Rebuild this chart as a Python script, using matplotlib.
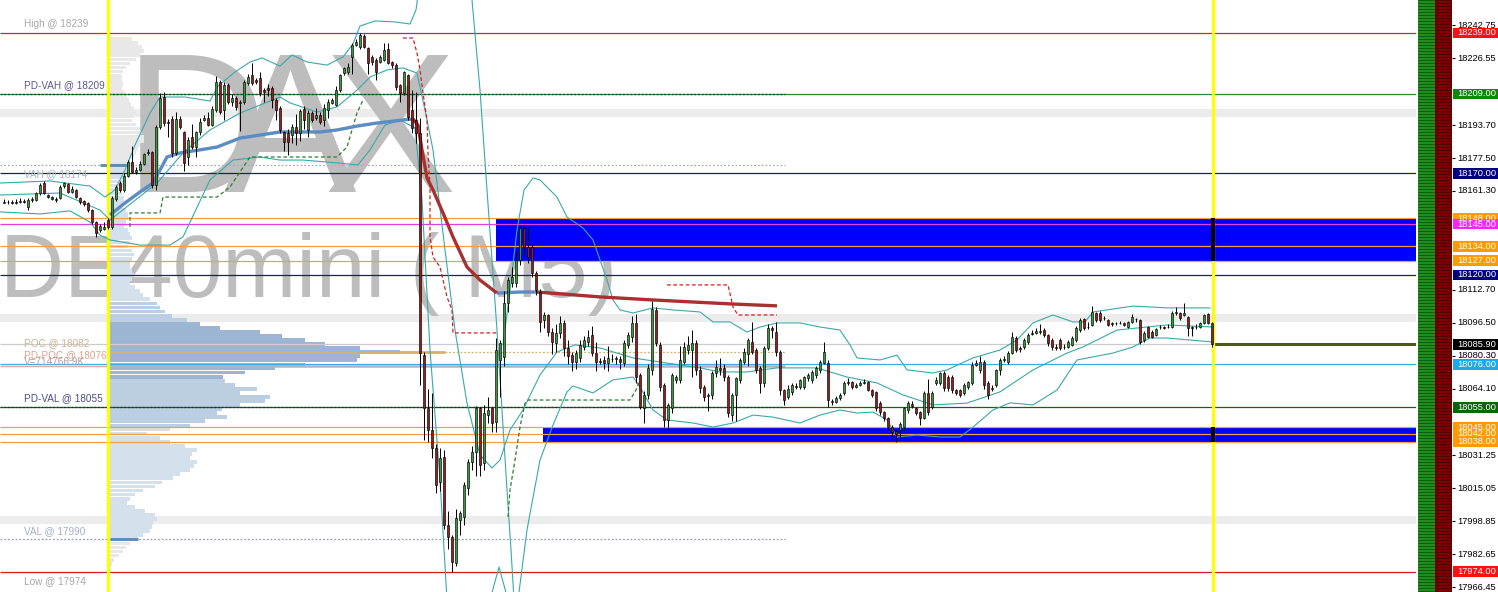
import numpy as np
import matplotlib
matplotlib.use('Agg')
import matplotlib.pyplot as plt
from matplotlib.patches import Rectangle

plt.rcParams['font.family'] = ['Liberation Sans', 'DejaVu Sans']

# ---- DE40mini M5 candles ----
opens = [18155.5, 18156, 18156, 18155.5, 18156, 18156.5, 18153.5, 18157, 18157, 18160.3,
         18165, 18159.5, 18158.5, 18157.5, 18158, 18163.5, 18164.5, 18161, 18162, 18158,
         18156.5, 18155.5, 18152, 18146, 18142, 18142.5, 18147, 18143.6, 18157.5, 18165.2,
         18162, 18168.7, 18175.6, 18170.6, 18171.6, 18174.6, 18180, 18180.5, 18164.2, 18192.8,
         18207.5, 18195, 18196.7, 18180, 18196.7, 18190.3, 18178, 18187.8, 18182.9, 18190.3,
         18196, 18197.2, 18193.7, 18201.1, 18214.9, 18201.1, 18213.4, 18205, 18207, 18204.5,
         18205, 18214.4, 18218.3, 18215.9, 18216.8, 18210.9, 18211.9, 18211.9, 18206, 18202,
         18190.3, 18189.8, 18188.8, 18192.8, 18189.8, 18201.6, 18191.3, 18199.6, 18197, 18198.6,
         18196.2, 18201.1, 18204.5, 18203.6, 18210.9, 18219.3, 18219.8, 18227.2, 18233, 18232.1,
         18237.5, 18231.6, 18227.2, 18225.7, 18224.7, 18225.7, 18231.1, 18224.7, 18223.2, 18213.4,
         18209.5, 18218.3, 18201.1, 18196.2, 18190, 18080.6, 18054.5, 18043.8, 18034.9, 18018.2,
         18030.5, 17997, 17991.1, 17978.4, 17999.5, 18001, 18015.3, 18028, 18033, 18054.6,
         18027.6, 18051.1, 18054.6, 18047.7, 18078.2, 18079.6, 18106.2, 18116, 18116, 18127.4,
         18143.1, 18133.8, 18133.8, 18121, 18111.6, 18097.8, 18100.3, 18092, 18086.5, 18091.5,
         18096.4, 18084.1, 18080.5, 18077.2, 18079.2, 18084.6, 18087, 18090.5, 18081.6, 18077.2,
         18078, 18076.7, 18078.7, 18078.7, 18078.7, 18076.7, 18085.6, 18089.5, 18096.4, 18070.8,
         18054.6, 18061, 18073.3, 18102.8, 18085.6, 18065.9, 18048.7, 18054.6, 18068.4, 18068.4,
         18077.2, 18083, 18083, 18086.5, 18073.3, 18064.9, 18060.5, 18060.9, 18071.8, 18074.3,
         18074.3, 18069.8, 18051.1, 18061, 18068.4, 18077.2, 18081, 18087, 18083.1, 18074.3,
         18066.9, 18084.1, 18093.9, 18092, 18082.1, 18063.4, 18060, 18062.5, 18065.5, 18064.9,
         18064.9, 18069.3, 18068.4, 18070.8, 18073.3, 18076.7, 18076.7, 18057.5, 18057.5, 18059.4,
         18062, 18066.9, 18067.2, 18065, 18066, 18066.9, 18067.3, 18063.4, 18062.5, 18057,
         18052.6, 18049.6, 18045.3, 18043.3, 18043.8, 18045.3, 18053.6, 18056.5, 18054.6, 18052.6,
         18049.6, 18061.9, 18055, 18067, 18066.9, 18071.8, 18069.8, 18069.8, 18063.4, 18063.4,
         18061.9, 18064.9, 18066.9, 18075.7, 18073.3, 18077.2, 18066.9, 18063.9, 18065.9, 18073.3,
         18078, 18077.2, 18081.6, 18089, 18084.1, 18084.6, 18087, 18091, 18091.5, 18092,
         18093, 18090.5, 18088, 18084.8, 18088, 18084.4, 18084.6, 18085.6, 18088, 18092.9,
         18098.3, 18094.4, 18095.4, 18101.3, 18101.3, 18098.6, 18097.8, 18096.4, 18096.2, 18096.4,
         18096.6, 18094.4, 18096.9, 18098.3, 18097.8, 18088, 18094.4, 18092, 18090.5, 18094.2,
         18094.4, 18094.3, 18094.4, 18101.3, 18101.3, 18100.3, 18099.3, 18094.4, 18094.2, 18094.4,
         18096.4, 18100.8, 18096.4]
highs = [18157.5, 18157, 18157, 18157.5, 18158, 18157.5, 18158, 18158.5, 18161, 18165,
         18166, 18160, 18159, 18158.5, 18164, 18165.5, 18165, 18163.5, 18162.5, 18158.5,
         18157, 18156, 18152.5, 18146.5, 18145, 18146, 18148, 18159, 18164, 18166,
         18170, 18176.5, 18183.5, 18173, 18176, 18180, 18182, 18181, 18193.5, 18209.5,
         18210, 18196.5, 18198, 18200, 18198, 18191, 18188, 18194, 18191, 18197,
         18198.5, 18200, 18203, 18218, 18216, 18215, 18214.5, 18209, 18208, 18206,
         18216, 18219, 18224, 18217, 18220, 18212, 18214, 18213, 18207, 18203,
         18191, 18192, 18194, 18199, 18201.5, 18203, 18201, 18200.5, 18202, 18200,
         18204, 18206.5, 18207, 18213, 18219, 18222.5, 18224, 18234, 18236, 18239,
         18238.5, 18232, 18228, 18226.5, 18228, 18234, 18234, 18225, 18224, 18214,
         18220.5, 18219, 18211, 18210, 18197, 18082, 18064, 18062, 18037, 18035,
         18034, 18004, 17992, 18005, 18004, 18018, 18029.5, 18036, 18055.5, 18055,
         18056, 18060, 18055, 18089, 18088, 18112, 18119, 18124, 18132, 18144,
         18144, 18144, 18135, 18122, 18113, 18102, 18101, 18094, 18096, 18100,
         18098, 18088, 18082, 18083, 18088, 18090, 18093, 18095, 18087, 18079,
         18080, 18085, 18081, 18080, 18080, 18088, 18092, 18100, 18101, 18072,
         18063, 18076, 18107, 18104, 18087, 18067, 18057, 18072, 18071, 18085,
         18087, 18090, 18093, 18088, 18075, 18066, 18062, 18073, 18078, 18079,
         18076, 18071, 18062, 18070, 18079, 18084, 18089, 18097, 18084, 18075,
         18085, 18096, 18095, 18097, 18083, 18064, 18066, 18067, 18067, 18069,
         18070.5, 18072, 18073.5, 18075, 18078, 18087, 18078, 18059, 18060.5, 18062,
         18068, 18069.5, 18068, 18067, 18068, 18069, 18068, 18064, 18063, 18058,
         18053, 18050, 18046, 18044, 18047.5, 18055, 18058, 18058, 18055, 18053,
         18063, 18069, 18063, 18070, 18072.5, 18073, 18071, 18071, 18064, 18064,
         18067, 18068, 18077, 18078, 18080, 18078, 18068, 18066, 18074, 18079,
         18080, 18082.5, 18092, 18090, 18085, 18089, 18091.5, 18093, 18094, 18096,
         18094, 18091, 18089, 18086, 18089, 18086, 18088, 18090, 18095, 18099,
         18099, 18097, 18104.5, 18102, 18102.5, 18100, 18098.5, 18097, 18097, 18097.5,
         18097, 18097.5, 18101, 18099, 18098.5, 18092.5, 18095, 18093, 18094, 18095.5,
         18095, 18096, 18102.5, 18104, 18102, 18106, 18100, 18095, 18096, 18097,
         18101, 18101.5, 18097]
lows = [18155.5, 18155, 18155, 18155, 18155.5, 18155.5, 18152, 18156, 18156.5, 18159.5,
        18160, 18158, 18157, 18156, 18157.5, 18163, 18160.5, 18160.5, 18158, 18155,
        18154, 18151, 18145, 18138.7, 18141, 18142, 18142.5, 18142.5, 18156.5, 18161,
        18161, 18168, 18170, 18169.5, 18171, 18174, 18179, 18163, 18162, 18192,
        18193, 18188, 18178, 18179, 18192, 18171, 18174, 18182, 18178, 18189,
        18195.5, 18193, 18193, 18200, 18199, 18196, 18204, 18203, 18201, 18191,
        18204, 18213.5, 18213.5, 18214, 18208, 18205, 18208, 18202, 18196, 18190,
        18181, 18179, 18185, 18184, 18186, 18192, 18188, 18195, 18196, 18194,
        18193, 18197, 18204, 18203, 18210, 18218.5, 18219, 18219, 18232.5, 18231,
        18231.5, 18219, 18223, 18216, 18224, 18225, 18223.5, 18222, 18211, 18205,
        18208.5, 18196, 18190, 18185, 18066, 18039, 18038, 18030, 18013, 18014,
        17995, 17985, 17974, 17977, 17992, 17997, 18012, 18024, 18021, 18021,
        18024, 18047, 18043, 18043, 18060, 18075, 18102, 18114, 18114, 18125,
        18130, 18126, 18119, 18110, 18092, 18094, 18090, 18081, 18082, 18089,
        18080, 18076, 18073, 18074, 18077, 18083, 18085, 18080, 18073, 18076,
        18074, 18073, 18077, 18076, 18074, 18075, 18084, 18087, 18067, 18054,
        18047, 18059, 18071, 18085, 18063, 18045, 18044, 18052, 18067, 18067,
        18076, 18081, 18070, 18071, 18062, 18058, 18053, 18059, 18070, 18071,
        18068, 18050, 18048, 18048, 18067, 18076, 18075, 18081, 18072, 18062,
        18065, 18083, 18089, 18080, 18061, 18056, 18059, 18061, 18064, 18064,
        18064, 18068, 18067, 18069.5, 18072, 18076, 18055, 18056, 18057, 18058.5,
        18061, 18066, 18064, 18064.5, 18065.5, 18066.5, 18063, 18060, 18053, 18051,
        18048, 18044, 18039, 18038, 18040, 18044, 18052, 18054.5, 18051, 18046,
        18049, 18051, 18054, 18066, 18066, 18063, 18063, 18062, 18061, 18060,
        18061, 18064, 18066, 18075, 18072, 18064, 18059, 18063, 18065, 18071,
        18077, 18076, 18081, 18082, 18082, 18083.5, 18086, 18090.5, 18091, 18091,
        18089.5, 18085, 18083, 18083, 18083, 18083.5, 18084, 18085, 18087, 18092,
        18093, 18093.5, 18095, 18097, 18097, 18098, 18095, 18095, 18095.5, 18096,
        18095, 18094, 18096.5, 18097, 18086, 18087, 18089, 18089, 18090, 18093.5,
        18093.5, 18093.8, 18094, 18100.5, 18098, 18100, 18090, 18090, 18093.5, 18094,
        18096, 18096, 18084.5]
closes = [18156, 18156, 18155.5, 18156, 18156.5, 18156, 18157, 18157.4, 18160.3, 18164.2,
          18160.3, 18158.5, 18157.5, 18157, 18163.3, 18165, 18161, 18162.5, 18158.5, 18156,
          18155, 18152, 18146, 18140.6, 18144, 18143.8, 18143.6, 18158, 18163.3, 18161.8,
          18168.7, 18175.6, 18170.6, 18171.6, 18174.6, 18179.5, 18180.5, 18164.2, 18192.8, 18207,
          18194.7, 18194.5, 18180, 18196.7, 18192.8, 18175, 18186.4, 18182.9, 18190.3, 18195.2,
          18197, 18193.7, 18201.6, 18214.9, 18200.1, 18213.4, 18205, 18207, 18202.6, 18205,
          18214.9, 18217.4, 18214.4, 18214.9, 18209.5, 18210, 18210.9, 18206, 18201.1, 18191.3,
          18185.4, 18185.4, 18192.8, 18189.8, 18200.6, 18196.2, 18199.6, 18196.2, 18198.5, 18195.2,
          18202.1, 18205, 18206, 18210.9, 18218.3, 18221.8, 18222.3, 18233, 18234.5, 18238,
          18232.1, 18224.2, 18224.7, 18219.8, 18227.2, 18230.6, 18224.2, 18223.2, 18212.4, 18209.5,
          18219.8, 18197.7, 18192.3, 18189.8, 18081.6, 18054.5, 18043.8, 18034.9, 18016.7, 18030,
          17997, 17991.1, 17978.9, 18000.5, 18003, 18016.7, 18028, 18033, 18054.6, 18026.6,
          18052.1, 18053.6, 18047.2, 18083.1, 18086.5, 18106.2, 18117.5, 18119, 18127.4, 18143.1,
          18133.8, 18128.8, 18121, 18112.6, 18096.9, 18100.3, 18092, 18087, 18091.5, 18096.4,
          18084.1, 18080, 18077.2, 18081.6, 18085.6, 18088, 18089.5, 18081.6, 18077.2, 18077.7,
          18076.7, 18079.2, 18078.7, 18079.2, 18077.2, 18086.5, 18090.5, 18096.4, 18069.8, 18055,
          18061, 18074.3, 18103.3, 18086.5, 18064.9, 18048.7, 18056, 18070.8, 18069.8, 18078.2,
          18084.6, 18085.5, 18086.5, 18073.3, 18064.4, 18060, 18060.9, 18071.8, 18074.8, 18073.3,
          18069.8, 18052.1, 18061, 18069.3, 18078.2, 18082, 18088, 18082.1, 18073.3, 18066.9,
          18084.1, 18093.9, 18093, 18082.1, 18063.4, 18058.5, 18063.9, 18065.9, 18065, 18068.4,
          18069.8, 18070.8, 18072.3, 18074.3, 18077.2, 18082.1, 18058.5, 18058, 18059.4, 18061,
          18066.9, 18067.2, 18064.9, 18065.9, 18066.8, 18067.3, 18063.4, 18061, 18054.6, 18052.6,
          18049.6, 18045.3, 18042.8, 18042, 18046.7, 18054.6, 18057, 18055.5, 18052.1, 18049.6,
          18061.9, 18052.6, 18061.9, 18068.4, 18071.8, 18064.4, 18064.4, 18063.4, 18061.9, 18061,
          18065.9, 18067.3, 18075.7, 18076.7, 18077.2, 18065.9, 18061, 18064.4, 18073.3, 18078.2,
          18078.6, 18081.6, 18089.5, 18083.1, 18083.6, 18088, 18090.5, 18091.6, 18092.2, 18092.5,
          18090.5, 18086.5, 18084.6, 18084.3, 18084.1, 18084.8, 18087, 18089, 18093.9, 18097.8,
          18094, 18094.6, 18101.8, 18097.8, 18097.8, 18098.9, 18095.4, 18095.9, 18096.5, 18096.6,
          18095.6, 18096.9, 18099.4, 18098.1, 18087, 18091.5, 18089.5, 18089.5, 18093.4, 18094.5,
          18094, 18094.6, 18101.3, 18101.6, 18098.8, 18101.5, 18093.9, 18093.9, 18094.4, 18096.4,
          18100.3, 18096.4, 18085.9]

# ---- Bollinger bands (candle index, price) ----
bb_up1_i = [-1, 11.5, 21.5, 25.25, 27.75, 30.25, 32.75, 36.5, 39, 45.25, 51.5, 53.5, 57.75, 61.5,
            64.5, 69, 72, 75.75, 80.75, 84.75, 87.25, 89, 92.75, 97.75, 101.5, 103, 104]
bb_up1 = [18165.2, 18166.2, 18163.7, 18158.3, 18161.8, 18171.6, 18183.9, 18199.6, 18207.5, 18207.5,
          18205.5, 18212.9, 18219.8, 18224.7, 18226.7, 18222.7, 18228.2, 18224.7, 18223.2, 18227.2,
          18233.6, 18242.4, 18244.9, 18244.4, 18243.4, 18250.3, 18265]
bb_up2_i = [116, 117, 119, 120.75, 122, 123.25, 124.5, 125.75, 126.75, 127.5]
bb_up2 = [18265, 18255.2, 18210.9, 18161.8, 18127.4, 18092.9, 18053.6, 18014.3, 17984.8, 17960.2]
bb_up3_i = [124.75, 126.5, 128.25, 130, 132.25, 134, 138.25, 140.75, 144.75, 147.25, 149, 150.75,
            152.25, 154, 157.25, 162.25, 167.25, 174, 177.25, 181.5, 185.75, 189, 193.25, 199, 204,
            209, 211.5, 213.25, 219, 223.25, 225.75, 232.25, 235.75, 242.25, 249, 253.25, 257.25,
            262.25, 267.25, 270.25, 272.25, 282.25, 290.75, 301.5]
bb_up3 = [18085.6, 18112.6, 18142.1, 18161.8, 18167.7, 18166.7, 18158.3, 18148.5, 18143.1, 18137.2,
          18127.4, 18117.5, 18107.7, 18102.8, 18101.3, 18103.8, 18102.8, 18101.8, 18096.9, 18096.9,
          18091.9, 18094.4, 18096.4, 18096.4, 18094.4, 18092.9, 18085.6, 18079.2, 18078.2, 18080.6,
          18073.3, 18071.8, 18073.3, 18079.2, 18083.1, 18088.0, 18096.4, 18100.3, 18096.9, 18096.9,
          18101.8, 18104.7, 18103.8, 18103.8]
bb_mid_i = [-1, 14, 24, 26.5, 38.25, 44.75, 51.5, 59, 69, 71.5, 78.25, 83.25, 88.25, 91.5, 95.75,
            99.75, 103.25, 105.25, 107.25, 110.25, 112.75, 115.75, 119, 122, 124, 126.5, 129.75,
            134, 138.25, 142.75, 149, 157.25, 164, 169, 174, 179, 185.75, 193.25, 203.25, 210.75,
            218.25, 224.75, 232.25, 240.75, 249, 257.25, 265.75, 269.75, 278.25, 290.75, 302.25]
bb_mid = [18159.3, 18160.3, 18151.9, 18147.0, 18165.2, 18180.0, 18191.3, 18199.6, 18207.5, 18204.6,
          18200.1, 18202.6, 18210.9, 18217.3, 18220.8, 18221.8, 18219.3, 18201.1, 18181.5, 18132.3,
          18092.9, 18057.0, 18031.5, 18025.1, 18029.0, 18043.8, 18053.6, 18070.8, 18082.1, 18085.6,
          18084.1, 18079.2, 18077.2, 18075.7, 18074.3, 18072.3, 18072.3, 18074.3, 18074.3, 18069.8,
          18066.9, 18061.0, 18056.1, 18057.0, 18062.5, 18073.3, 18081.6, 18084.6, 18092.9, 18095.4,
          18094.4]
bb_lo1_i = [-1, 9, 16.5, 21.5, 24, 26.5, 34, 41.5, 44.75, 51.5, 57.25, 64, 69, 74.75, 83.25, 88.5,
            91.5, 95.25, 99, 102.75, 104.5, 106.5, 109, 110.75]
bb_lo1 = [18151.0, 18150.0, 18151.5, 18146.0, 18139.6, 18137.2, 18134.7, 18134.7, 18138.7, 18166.7,
          18176.5, 18178.0, 18176.5, 18176.5, 18175.1, 18174.1, 18181.5, 18193.7, 18196.2, 18192.3,
          18156.9, 18083.1, 18019.2, 17960.2]
bb_lo2_i = [121.5, 123.75, 126]
bb_lo2 = [17960.2, 17976.4, 17960.2]
bb_lo3_i = [128.5, 130.75, 134, 137.25, 140.75, 142.25, 147.25, 152.25, 157.25, 159, 162.25, 165.75,
            172.25, 177.25, 182.25, 187.25, 192.25, 199, 204, 209, 213.25, 217.25, 220.75, 223.25,
            228.25, 234, 239, 242.25, 247.25, 251.5, 257.25, 263.25, 268.25, 272.25, 277.25, 282.25,
            286.5, 290.75, 302.25]
bb_lo3 = [17960.2, 17994.6, 18029.0, 18046.2, 18062.5, 18065.4, 18062.0, 18068.4, 18069.8, 18064.9,
          18053.6, 18048.7, 18047.2, 18045.2, 18047.2, 18051.1, 18050.1, 18047.2, 18051.1, 18053.6,
          18052.1, 18052.6, 18048.7, 18040.3, 18041.3, 18040.3, 18040.3, 18045.2, 18053.6, 18057.1,
          18056.1, 18063.4, 18078.2, 18079.7, 18081.6, 18084.6, 18089.0, 18089.0, 18087.0]

# ---- VWAP, blue above / red below ----
vwap_b1_i = [26.5, 30.25, 34, 37.25, 39, 40.75, 44, 49, 53.25, 59, 69, 79, 83.25, 88.25, 93.25, 99.75, 102.25]
vwap_b1 = [18149.5, 18155.4, 18160.8, 18165.2, 18171.6, 18178.0, 18180.0, 18181.5, 18182.9, 18187.3,
           18190.3, 18190.3, 18191.3, 18193.2, 18194.7, 18196.2, 18196.7]
vwap_r1_i = [102.25, 103.5, 104.5, 105.75, 107.25, 109.75, 112.25, 115.75, 119, 123.25]
vwap_r1 = [18196.7, 18193.7, 18181.5, 18167.7, 18161.8, 18150.5, 18138.7, 18123.9, 18117.5, 18111.1]
vwap_b2_i = [123.25, 129, 133.25]
vwap_b2 = [18111.1, 18111.6, 18111.6]
vwap_r2_i = [133.25, 149, 162.25, 182.25, 193.25]
vwap_r2 = [18111.6, 18109.2, 18107.7, 18105.7, 18104.8]

# ---- trailing stops ----
sup1_i = [31.5, 31.5, 39, 39.75, 53.25, 56.5, 61.5, 83.25, 85.75, 88.25, 89.75]
sup1 = [18143.6, 18150.5, 18150.5, 18158.3, 18158.3, 18163.3, 18178.0, 18178.0, 18182.9, 18199.6, 18206.0]
sup2_i = [126, 126.5, 127.75, 129, 130.25, 131, 156.5, 158, 159]
sup2 = [18001.0, 18014.3, 18029.0, 18045.2, 18057.0, 18058.5, 18058.5, 18063.4, 18068.4]
res1_i = [99.75, 102.25, 103.25, 104, 104.75, 105.75, 106, 106.5, 106.5, 107.25, 109, 110.75, 112, 112.25, 123.25]
res1 = [18236.5, 18236.5, 18229.1, 18220.8, 18209.5, 18196.2, 18180.0, 18163.3, 18138.7, 18128.8,
        18123.9, 18109.2, 18102.8, 18091.5, 18091.5]
res2_i = [165.75, 181, 182.25, 183.5, 193.25]
res2 = [18115.1, 18115.1, 18104.2, 18100.3, 18100.3]

# ---- volume profile ----
prof_price = [18236, 18234, 18232, 18230, 18228, 18226, 18224, 18222, 18220, 18218, 18216, 18214,
              18212, 18210, 18208, 18206, 18204, 18202, 18200, 18198, 18196, 18194, 18192, 18190,
              18188, 18186, 18184, 18182, 18180, 18178, 18176, 18174, 18172, 18170, 18168, 18166,
              18164, 18162, 18160, 18158, 18156, 18154, 18152, 18150, 18148, 18146, 18144, 18142,
              18140, 18138, 18136, 18134, 18132, 18130, 18128, 18126, 18124, 18122, 18120, 18118,
              18116, 18114, 18112, 18110, 18108, 18106, 18104, 18102, 18100, 18098, 18096, 18094,
              18092, 18090, 18088, 18086, 18084, 18082, 18080, 18078, 18076, 18074, 18072, 18070,
              18068, 18066, 18064, 18062, 18060, 18058, 18056, 18054, 18052, 18050, 18048, 18046,
              18044, 18042, 18040, 18038, 18036, 18034, 18032, 18030, 18028, 18026, 18024, 18022,
              18020, 18018, 18016, 18014, 18012, 18010, 18008, 18006, 18004, 18002, 18000, 17998,
              17996, 17994, 17992, 17990, 17988, 17986, 17984, 17982, 17980, 17978, 17976]
prof_vol = [22, 28, 32, 34, 30, 26, 20, 16, 13, 12, 12, 13, 12, 15, 17, 19, 21, 24, 26, 24, 22,
            26, 30, 32, 34, 34, 30, 28, 26, 24, 20,
            22, 20, 18, 16, 14, 14, 12, 12, 14, 14, 12, 16, 18, 18, 16, 14, 18, 20, 22, 20, 18,
            22, 24, 22, 20, 20, 22, 24, 22, 20,
            25, 30, 33, 40, 47, 50, 55, 62, 77, 90, 110, 150, 172, 195, 215, 250, 290, 250, 247,
            195, 165, 135, 113, 115, 125, 147, 130, 160, 155, 130, 112, 107, 117, 95, 80, 60, 37,
            50, 60, 75, 87, 82, 80, 87, 84, 80, 70, 63, 52, 45, 33, 25, 20, 17, 25, 35, 45, 47,
            43, 42, 40, 33, 28,
            20, 16, 13, 9, 4, 2, 1]
vah, poc, val = 18174, 18082, 17990

# ---- levels ----
full_lines = [(18239, '#dd2020'), (18209, '#2e8b2e'), (18170, '#1a1a80'), (18148, '#f0a040'),
              (18145, '#e040e0'), (18134, '#f0a040'), (18127, '#f0a040'), (18120, '#1a1a80'),
              (18085.9, '#cccccc'), (18076, '#3ab0e0'), (18055, '#1a5e1a'), (18045, '#f0a040'),
              (18042, '#f0a040'), (18038, '#f0a040'), (17974, '#cc2020')]
left_labels = ['High @ 18239', 'PD-VAH @ 18209', 'VAH @ 18174', 'POC @ 18082', 'PD-POC @ 18076',
               'V=714766.9K', 'PD-VAL @ 18055', 'VAL @ 17990', 'Low @ 17974']
left_label_y = [18243.4, 18213.4, 18169.6, 18086.5, 18080.6, 18077.2, 18059.5, 17994.1, 17969.5]
left_label_c = ['#a8a8a8', '#5a5a90', '#aab4cc', '#c9b595', '#e2a08a', '#b89c98', '#4c4c88', '#a4aec6', '#a8a8a8']

tick_vals = [18242.75, 18226.55, 18193.70, 18177.50, 18161.30, 18112.70,
             18096.50, 18080.30, 18064.10, 18031.25, 18015.05, 17998.85, 17982.65, 17966.45]
tag_prices = [18239, 18209, 18170, 18148, 18145, 18134, 18127, 18120, 18085.9, 18076, 18055,
              18045, 18042, 18038, 17974]
tag_colors = ['#ff1010', '#0a8a0a', '#000080', '#ff9a00', '#ff20ff', '#ff9a00', '#ff9a00', '#000080',
              '#000000', '#18aaee', '#0a640a', '#ff9a00', '#ff9a00', '#ff9a00', '#ff1010']

Y_LO, Y_HI = 17964.1, 18255.2
W, H = 1498, 592
fig = plt.figure(figsize=(W / 100, H / 100), dpi=100)
fig.patch.set_facecolor('white')

ax = fig.add_axes([0, 0, 1416 / W, 1])
ax.set_xlim(-1, 353)
ax.set_ylim(Y_LO, Y_HI)
ax.axis('off')

# round number bands
for p in (18199.5, 18099, 17999.5):
    ax.axhspan(p - 2, p + 2, color='#ececec', lw=0, zorder=1)

# watermark
wm = '#bdbdbd'
ax.text(47.75, 18160.8, 'D', fontsize=143, color=wm, ha='center', va='baseline', zorder=2)
ax.text(71.5, 18160.8, 'A', fontsize=143, color=wm, ha='center', va='baseline', zorder=2)
ax.text(96.5, 18160.8, 'X', fontsize=143, color=wm, ha='center', va='baseline', zorder=2)
ax.text(-0.9, 18109.2, 'DE40mini ( M5)', fontsize=64, color=wm, ha='left', va='baseline', zorder=2)

# volume profile
pcol = []
for p in prof_price:
    if p > vah or p < val:
        pcol.append('#e8e8e8')
    elif 18070 <= p <= 18096:
        pcol.append('#9cb5d2')
    elif 18046 <= p < 18070 or 18096 < p <= 18106:
        pcol.append('#bccee2')
    else:
        pcol.append('#d4e0ec')
ax.barh(prof_price, np.array(prof_vol) / 4.0, left=26.6, height=1.85, color=pcol, lw=0, zorder=2.5)

# zones
ax.add_patch(Rectangle((123, 18127), 353 - 123, 21, color='#0000ff', lw=0, zorder=4))
ax.add_patch(Rectangle((134.75, 18038), 353 - 134.75, 7, color='#0000ff', lw=0, zorder=4))

# levels
for p, c in full_lines:
    ax.hlines(p, -1, 353, color=c, lw=0.9, zorder=5)
dot = (0, (1.5, 1.5))
ax.hlines(18209, -1, 195.25, color='#1c3a2a', lw=0.9, linestyles=dot, zorder=5.1)
ax.hlines(vah, -1, 195.25, color='#a0b0c4', lw=0.9, linestyles=dot, zorder=5.1)
ax.hlines(18055, -1, 195.25, color='#1c3a2a', lw=0.9, linestyles=dot, zorder=5.1)
ax.hlines(val, -1, 195.25, color='#90a0b8', lw=0.9, linestyles=dot, zorder=5.1)
ax.hlines(poc, 26.5, 110.25, color='#d4b26c', lw=2, zorder=5.1)
ax.hlines(poc, 110.25, 195.25, color='#d4b26c', lw=0.9, linestyles=dot, zorder=5.1)
ax.hlines(18075.2, -1, 26.5, color='#e0a8a8', lw=1, zorder=5.05)
ax.hlines(18075.2, 26.5, 195.25, color='#b4b0cc', lw=1.8, zorder=5.05)
ax.hlines(vah, 24, 31, color='#5b88b8', lw=2, zorder=5.2)
ax.hlines(val, 26.5, 33.5, color='#5b88b8', lw=2, zorder=5.2)
ax.hlines(18085.9, 302.25, 353, color='#4b5a1e', lw=2.2, zorder=5.2)

# session lines
for xv in (26, 302.25):
    ax.axvline(xv, color='#ffff00', lw=2.3, zorder=6)
ax.add_patch(Rectangle((301.8, 18127), 0.9, 21, color='black', lw=0, zorder=6.1))
ax.add_patch(Rectangle((301.8, 18038), 0.9, 7, color='black', lw=0, zorder=6.1))

# bands and stops
teal = '#3aa9a9'
for xs, ys in ((bb_up1_i, bb_up1), (bb_up2_i, bb_up2), (bb_up3_i, bb_up3), (bb_mid_i, bb_mid),
               (bb_lo1_i, bb_lo1), (bb_lo2_i, bb_lo2), (bb_lo3_i, bb_lo3)):
    ax.plot(xs, ys, color=teal, lw=0.8, zorder=7)
for xs, ys in ((sup1_i, sup1), (sup2_i, sup2)):
    ax.plot(xs, ys, color='#2e7d32', lw=0.9, ls=(0, (3, 2)), zorder=7)
for xs, ys in ((res1_i, res1), (res2_i, res2)):
    ax.plot(xs, ys, color='#d02020', lw=0.9, ls=(0, (3, 2)), zorder=7)
for xs, ys in ((vwap_b1_i, vwap_b1), (vwap_b2_i, vwap_b2)):
    ax.plot(xs, ys, color='#5b8cc2', lw=2.4, zorder=7.5, solid_capstyle='butt')
for xs, ys in ((vwap_r1_i, vwap_r1), (vwap_r2_i, vwap_r2)):
    ax.plot(xs, ys, color='#a83030', lw=2.4, zorder=7.5, solid_capstyle='butt')

# candles
o = np.array(opens)
c = np.array(closes)
hi = np.array(highs)
lo = np.array(lows)
idx = np.arange(len(o))
up = c >= o
ax.vlines(idx, lo, hi, color='black', lw=0.7, zorder=8)
ax.bar(idx[up], c[up] - o[up], bottom=o[up], width=0.62, color='#3a9a3a',
       edgecolor='black', lw=0.45, zorder=9)
ax.bar(idx[~up], o[~up] - c[~up], bottom=c[~up], width=0.62, color='#9b1c1c',
       edgecolor='black', lw=0.45, zorder=9)

# labels on the left
for s, y, col in zip(left_labels, left_label_y, left_label_c):
    ax.text(5, y, s, fontsize=7.2, color=col, ha='left', va='center', zorder=10)

# striped strength columns
strip = fig.add_axes([1418 / W, 0, 34 / W, 1])
rows = np.arange(H)
dark = (rows % 3 == 0)[:, None]
img = np.zeros((H, 34, 3))
img[:, :17] = np.where(dark, np.array([0.05, 0.38, 0.05]), np.array([0.12, 0.55, 0.12]))[:, None, :]
img[:, 17:] = np.where(dark, np.array([0.33, 0.0, 0.0]), np.array([0.48, 0.0, 0.0]))[:, None, :]
strip.imshow(img, aspect='auto', interpolation='nearest')
strip.axis('off')

# price scale
lab = fig.add_axes([1452 / W, 0, 46 / W, 1])
lab.set_xlim(0, 46)
lab.set_ylim(Y_LO, Y_HI)
lab.axis('off')
lab.hlines(tick_vals, 0, 3, color='black', lw=0.8)
for v in tick_vals:
    lab.text(5, v, f'{v:.2f}', fontsize=6.7, color='black', ha='left', va='center')
for p, col in zip(tag_prices, tag_colors):
    lab.add_patch(Rectangle((0.6, p - 2.65), 45, 5.3, color=col, lw=0))
    lab.text(5.5, p, f'{p:.2f}', fontsize=6.7, color='white', ha='left', va='center')

fig.savefig('out.png', dpi=100, facecolor='white')
